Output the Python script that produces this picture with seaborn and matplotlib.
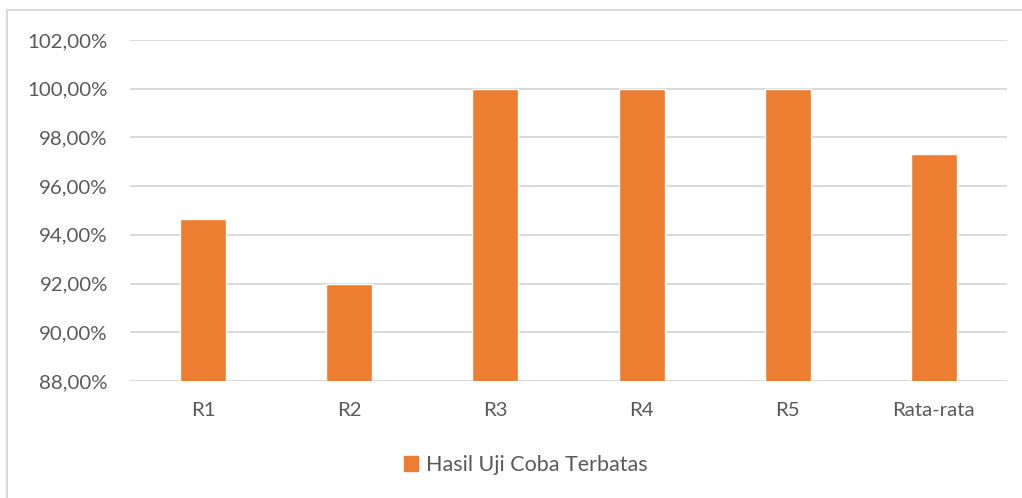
import matplotlib
matplotlib.use('Agg')
import matplotlib.pyplot as plt
import matplotlib.patches as mpatches
from matplotlib.lines import Line2D
import pandas as pd
import seaborn as sns

# Data
categories = ['R1', 'R2', 'R3', 'R4', 'R5', 'Rata-rata']
values = [94.67, 92.00, 100.00, 100.00, 100.00, 97.33]
series_name = 'Hasil Uji Coba Terbatas'
y_ticks = [88, 90, 92, 94, 96, 98, 100, 102]

bar_color = '#ED7D31'
text_color = '#595959'
grid_color = '#D9D9D9'

sns.set_style('white')
plt.rcParams['font.family'] = ['Lato', 'DejaVu Sans']

df = pd.DataFrame({'kategori': categories, 'nilai': values})

fig = plt.figure(figsize=(10.22, 4.98), dpi=100)
ax = fig.add_axes([130 / 1022, 117 / 498, 877 / 1022, 341 / 498])

sns.barplot(data=df, x='kategori', y='nilai', color=bar_color, width=0.315,
            saturation=1, ax=ax, zorder=3)

ax.set_ylim(88, 102)
ax.set_yticks(y_ticks)
ax.set_yticklabels([f'{t:.2f}%'.replace('.', ',') for t in y_ticks])
ax.set_xlim(-0.5, len(categories) - 0.5)
ax.yaxis.grid(True, color=grid_color, linewidth=1.4, zorder=0)
ax.set_axisbelow(True)
for s in ax.spines.values():
    s.set_visible(False)
ax.set_xlabel('')
ax.set_ylabel('')
ax.tick_params(axis='both', length=0, labelsize=14.7, labelcolor=text_color)
ax.tick_params(axis='y', pad=16)
ax.tick_params(axis='x', pad=15)

# outer chart frame (cut off on the right and bottom)
fig.add_artist(Line2D([7 / 1022, 7 / 1022], [0, 1 - 10 / 498], transform=fig.transFigure,
                      color=grid_color, linewidth=1.5))
fig.add_artist(Line2D([7 / 1022, 1], [1 - 10 / 498, 1 - 10 / 498], transform=fig.transFigure,
                      color=grid_color, linewidth=1.5))

handle = mpatches.Patch(color=bar_color, label=series_name)
fig.legend(handles=[handle], loc='center', bbox_to_anchor=(526 / 1022, 1 - 465 / 498),
           frameon=False, fontsize=15.5, labelcolor=text_color,
           handlelength=0.65, handleheight=0.65, handletextpad=0.35)

fig.savefig('out.png', dpi=100, facecolor='white')
